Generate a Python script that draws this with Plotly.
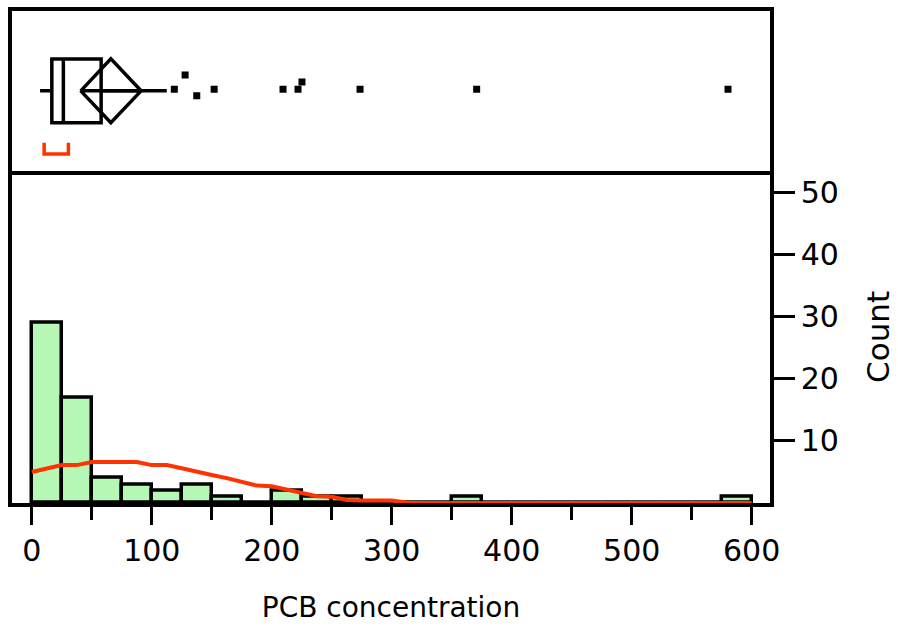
import plotly.graph_objects as go

# ---- data ----
bin_starts = [0, 25, 50, 75, 100, 125, 150, 175, 200, 225, 250, 275, 300, 325, 350, 375, 400, 425, 450, 475, 500, 525, 550, 575]
bin_counts = [29, 17, 4, 3, 2, 3, 1, 0, 2, 1, 1, 0, 0, 0, 1, 0, 0, 0, 0, 0, 0, 0, 0, 1]
bin_width = 25

curve_x = [0, 12.5, 25, 37.5, 50, 62.5, 75, 87.5, 100, 112.5, 125, 137.5, 150, 162.5, 175, 187.5, 200,
           212.5, 225, 237.5, 250, 262.5, 275, 287.5, 300, 312.5, 325, 400, 500, 600]
curve_y = [5.0, 5.6, 6.1, 6.1, 6.6, 6.6, 6.6, 6.6, 6.1, 6.1, 5.6, 5.0, 4.5, 4.0, 3.4, 2.8, 2.7,
           2.2, 1.6, 1.1, 1.0, 0.5, 0.4, 0.4, 0.4, 0.1, 0.0, 0.0, 0.0, 0.0]

lower_fence = 6.9
q1 = 16.7
median = 26.3
q3 = 57.8
upper_fence = 112.5
mean = 65.9
ci_low = 40.8
ci_high = 91.1
short_half = [10.3, 30.5]

outlier_x = [118.8, 127.8, 137.5, 152.0, 209.4, 221.9, 225.2, 273.6, 370.8, 580.3]
outlier_jitter = [0.02, 0.2, -0.06, 0.02, 0.02, 0.02, 0.11, 0.02, 0.02, 0.02]

x_ticks = [0, 100, 200, 300, 400, 500, 600]
y_ticks = [10, 20, 30, 40, 50]

GREEN = "#b5f7b5"
RED = "#ff3300"
FONT = "DejaVu Sans"
LW = 3.5

fig = go.Figure()

# histogram bars
fig.add_trace(go.Bar(
    x=[s + bin_width / 2 for s in bin_starts], y=bin_counts, width=bin_width,
    marker=dict(color=GREEN, line=dict(color="black", width=LW)),
    xaxis="x", yaxis="y", showlegend=False, hoverinfo="skip"))

# density curve
fig.add_trace(go.Scatter(
    x=curve_x, y=curve_y, mode="lines", line=dict(color=RED, width=4),
    xaxis="x", yaxis="y", showlegend=False, hoverinfo="skip"))

# box plot (precomputed)
box_half = 0.4
fig.add_trace(go.Box(
    y=[0], q1=[q1], median=[median], q3=[q3], lowerfence=[lower_fence], upperfence=[upper_fence],
    orientation="h", width=2 * box_half, whiskerwidth=0,
    fillcolor="rgba(0,0,0,0)", line=dict(color="black", width=LW),
    boxpoints=False, xaxis="x2", yaxis="y2", showlegend=False, hoverinfo="skip"))

# mean diamond
fig.add_trace(go.Scatter(
    x=[ci_low, mean, ci_high, mean, ci_low, ci_high],
    y=[0, box_half, 0, -box_half, 0, 0],
    mode="lines", line=dict(color="black", width=LW),
    xaxis="x2", yaxis="y2", showlegend=False, hoverinfo="skip"))

# outliers
fig.add_trace(go.Scatter(
    x=outlier_x, y=outlier_jitter, mode="markers",
    marker=dict(symbol="square", size=7, color="black"),
    xaxis="x2", yaxis="y2", showlegend=False, hoverinfo="skip"))

# shortest half bracket
fig.add_trace(go.Scatter(
    x=[short_half[0], short_half[0], short_half[1], short_half[1]],
    y=[-0.65, -0.79, -0.79, -0.65], mode="lines",
    line=dict(color=RED, width=LW),
    xaxis="x2", yaxis="y2", showlegend=False, hoverinfo="skip"))

xr = [-16.5, 615.3]
split = 0.6754

fig.update_layout(
    width=898, height=627,
    margin=dict(l=12, r=128, t=7, b=124),
    plot_bgcolor="white", paper_bgcolor="white",
    font=dict(family=FONT, color="black", size=30),
    bargap=0,
    xaxis=dict(domain=[0, 1], range=xr, anchor="y",
               showline=True, linewidth=LW, linecolor="black", mirror=False,
               showgrid=False, zeroline=False,
               ticks="outside", ticklen=18, tickwidth=3, tickcolor="black",
               tickvals=x_ticks, tickfont=dict(size=30),
               minor=dict(ticks="outside", ticklen=13, tickwidth=3, tickcolor="black",
                          dtick=50, tick0=0, showgrid=False),
               title=dict(text="PCB concentration", font=dict(size=28), standoff=32)),
    yaxis=dict(domain=[0, split], range=[0, 53.5], anchor="x", side="right",
               showline=True, linewidth=LW, linecolor="black", mirror=True,
               showgrid=False, zeroline=False,
               ticks="outside", ticklen=21, tickwidth=3, tickcolor="black",
               tickvals=y_ticks, tickfont=dict(size=30),
               title=dict(text="Count", font=dict(size=31), standoff=30)),
    xaxis2=dict(domain=[0, 1], range=xr, anchor="y2", matches="x",
                showline=True, linewidth=LW, linecolor="black", mirror=True,
                showgrid=False, zeroline=False, showticklabels=False, ticks=""),
    yaxis2=dict(domain=[split, 1], range=[-1, 1], anchor="x2",
                showline=True, linewidth=LW, linecolor="black", mirror=True,
                showgrid=False, zeroline=False, showticklabels=False, ticks=""),
)

fig.write_html("out.html")
